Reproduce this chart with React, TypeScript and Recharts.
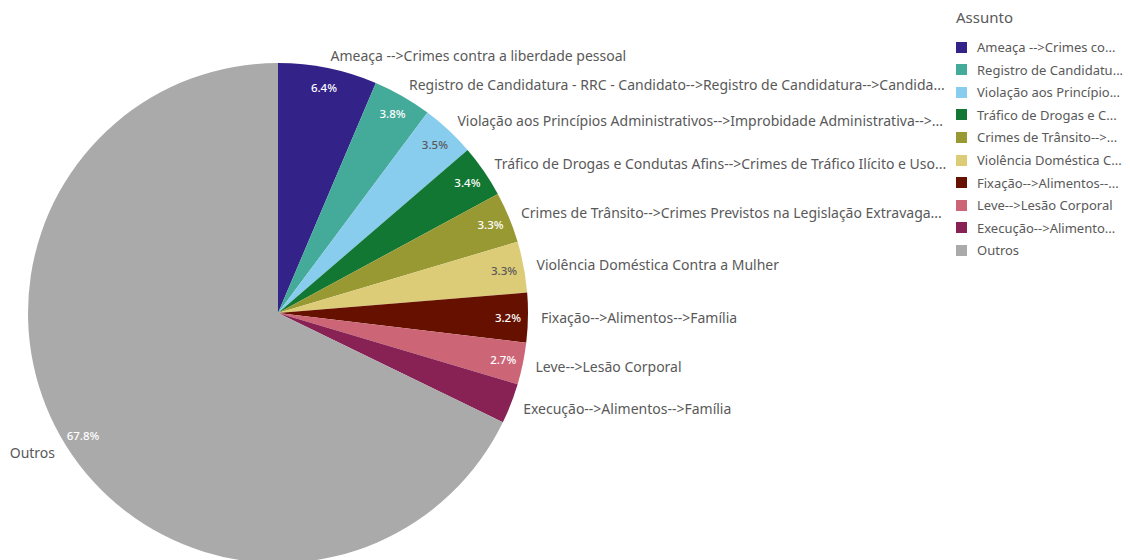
import { PieChart, Pie, Cell, Legend } from 'recharts';

// Assunto categories as labelled on the chart (long ones are cut by the source)
const LABELS = [
  'Ameaça -->Crimes contra a liberdade pessoal',
  'Registro de Candidatura - RRC - Candidato-->Registro de Candidatura-->Candida...',
  'Violação aos Princípios Administrativos-->Improbidade Administrativa-->...',
  'Tráfico de Drogas e Condutas Afins-->Crimes de Tráfico Ilícito e Uso...',
  'Crimes de Trânsito-->Crimes Previstos na Legislação Extravaga...',
  'Violência Doméstica Contra a Mulher',
  'Fixação-->Alimentos-->Família',
  'Leve-->Lesão Corporal',
  'Execução-->Alimentos-->Família',
  'Outros',
];

// same categories as cut in the legend
const LEGEND_LABELS = [
  'Ameaça -->Crimes co...',
  'Registro de Candidatu...',
  'Violação aos Princípio...',
  'Tráfico de Drogas e C...',
  'Crimes de Trânsito-->...',
  'Violência Doméstica C...',
  'Fixação-->Alimentos--...',
  'Leve-->Lesão Corporal',
  'Execução-->Alimento...',
  'Outros',
];

// share of total, percent
const SHARES = [6.4, 3.8, 3.5, 3.4, 3.3, 3.3, 3.2, 2.7, 2.6, 67.8];

// whether the percentage is printed inside the slice
const SHOW_PCT = [true, true, true, true, true, true, true, true, false, true];

const COLORS = [
  '#332288',
  '#44aa99',
  '#88ccee',
  '#117733',
  '#999933',
  '#ddcc77',
  '#661100',
  '#cc6677',
  '#882255',
  '#aaaaaa',
];

// slices with light fill get dark percentage text
const DARK_TEXT = [false, false, true, false, false, true, false, false, false, false];

const RAD = Math.PI / 180;
const FONT = '"Noto Sans", Roboto, sans-serif';

const data = LABELS.map((name, i) => ({ name, value: SHARES[i] }));

const renderLabel = (props: any) => {
  const { cx, cy, midAngle, outerRadius, index, name, value } = props;
  const cos = Math.cos(-midAngle * RAD);
  const sin = Math.sin(-midAngle * RAD);
  const ox = cx + (outerRadius + 13) * cos;
  const oy = cy + (outerRadius + 13) * sin;
  const ix = cx + (outerRadius - 20) * cos;
  const iy = cy + (outerRadius - 20) * sin;
  return (
    <g>
      {SHOW_PCT[index] && (
        <text
          x={ix}
          y={iy}
          textAnchor="middle"
          dominantBaseline="central"
          fontSize={11.5}
          fontWeight={500}
          fontFamily={FONT}
          fill={DARK_TEXT[index] ? '#595959' : '#ffffff'}
        >
          {value.toFixed(1)}%
        </text>
      )}
      <text
        x={ox}
        y={oy}
        textAnchor={ox > cx ? 'start' : 'end'}
        dominantBaseline="central"
        fontSize={14}
        fontFamily={FONT}
        fill="#595959"
      >
        {name}
      </text>
    </g>
  );
};

const renderLegend = () => (
  <div style={{ fontFamily: FONT, color: '#595959' }}>
    <div style={{ fontSize: 15, height: 22, lineHeight: '22px', marginBottom: 8 }}>Assunto</div>
    {LEGEND_LABELS.map((name, i) => (
      <div
        key={name}
        style={{ display: 'flex', alignItems: 'center', height: 22.55, fontSize: 13 }}
      >
        <span
          style={{
            width: 11,
            height: 11,
            background: COLORS[i],
            marginRight: 10,
            flex: 'none',
          }}
        />
        <span style={{ whiteSpace: 'nowrap' }}>{name}</span>
      </div>
    ))}
  </div>
);

export default function App() {
  return (
    <div style={{ position: 'absolute', top: 0, left: 0, width: 1130, height: 560, background: '#fff' }}>
      <PieChart width={1130} height={560} margin={{ top: 0, right: 0, bottom: 0, left: 0 }}>
        <Pie
          data={data}
          dataKey="value"
          nameKey="name"
          cx={278}
          cy={313}
          outerRadius={250}
          startAngle={90}
          endAngle={-270}
          stroke="none"
          labelLine={false}
          label={renderLabel}
          isAnimationActive={false}
        >
          {data.map((_, i) => (
            <Cell key={`cell-${i}`} fill={COLORS[i]} />
          ))}
        </Pie>
        <Legend
          layout="vertical"
          verticalAlign="top"
          align="right"
          content={renderLegend}
          wrapperStyle={{ position: 'absolute', top: 6, left: 956, width: 174 }}
        />
      </PieChart>
    </div>
  );
}
